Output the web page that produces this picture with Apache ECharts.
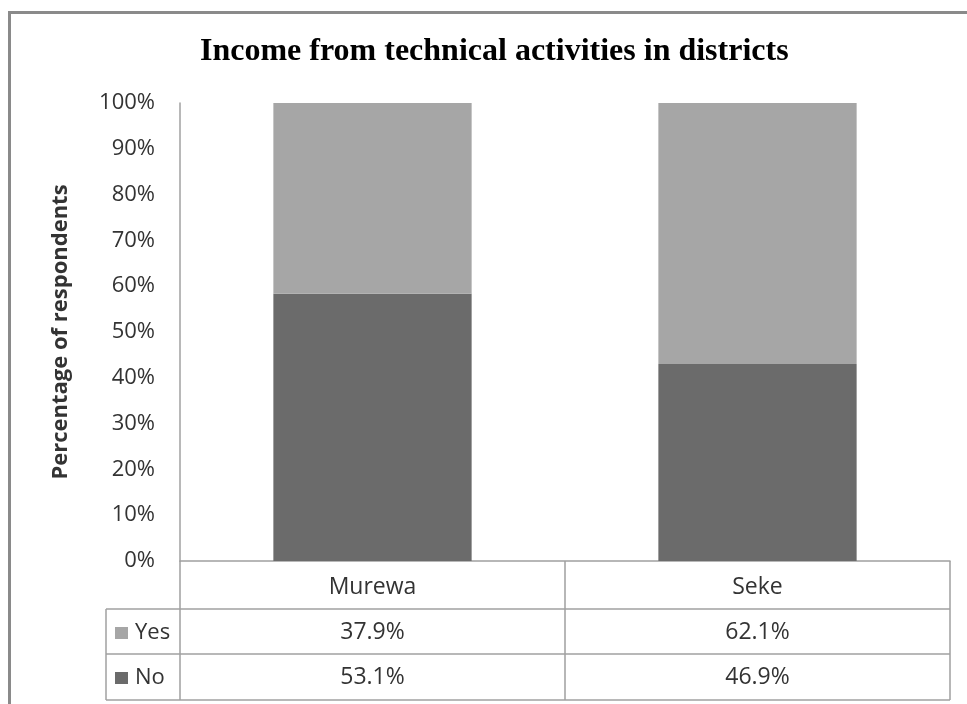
<!DOCTYPE html>
<html>
<head>
<meta charset="utf-8">
<title>Income from technical activities in districts</title>
<script src="https://cdn.jsdelivr.net/npm/echarts@6/dist/echarts.min.js"></script>
<style>
  html, body { margin: 0; padding: 0; background: #fff; }
  #chart { width: 967px; height: 704px; }
</style>
</head>
<body>
<div id="chart"></div>
<script>
// Survey answers per district (share of respondents, %)
const districts = ['Murewa', 'Seke'];
const yesValues = [37.9, 62.1];
const noValues = [53.1, 46.9];
const yTicks = [0, 10, 20, 30, 40, 50, 60, 70, 80, 90, 100];

const YES_COLOR = '#a6a6a6';
const NO_COLOR = '#6b6b6b';
const RULE = '#a0a0a0';
const FONT = '"Open Sans", sans-serif';
const TEXT = '#333';

// Columns are stacked to 100%: each segment is its share of the district total
const totals = districts.map((_, i) => yesValues[i] + noValues[i]);
const noShare = noValues.map((v, i) => v / totals[i] * 100);
const yesShare = yesValues.map((v, i) => v / totals[i] * 100);

// Plot box and data table geometry
const W = 967, H = 704;
const plot = { left: 180, right: 950, top: 103, bottom: 561 };
const tableLeft = 106;
const rowTops = [plot.bottom, plot.bottom + 48, plot.bottom + 48 + 45, plot.bottom + 48 + 45 + 45 + 1];

const fmt = v => v.toFixed(1) + '%';

const chart = echarts.init(document.getElementById('chart'), null, { renderer: 'canvas' });

const rowAxis = (offset, values) => ({
  type: 'category',
  data: districts,
  position: 'bottom',
  offset: offset,
  axisLine: { show: false },
  axisTick: { show: false },
  axisLabel: {
    margin: 0,
    verticalAlign: 'middle',
    fontFamily: FONT,
    fontSize: 23,
    color: TEXT,
    formatter: (v, i) => fmt(values[i])
  }
});

chart.setOption({
  animation: false,
  backgroundColor: '#fff',
  title: {
    text: 'Income from technical activities in districts',
    left: 200,
    top: 36,
    padding: 0,
    textStyle: {
      fontFamily: '"Liberation Serif", "Times New Roman", serif',
      fontWeight: 'bold',
      fontSize: 32,
      color: '#000'
    }
  },
  legend: {
    data: ['Yes', 'No'],
    orient: 'vertical',
    left: 110,
    top: 616,
    itemGap: 21,
    itemWidth: 13,
    itemHeight: 12,
    icon: 'rect',
    selectedMode: false,
    textStyle: { fontFamily: FONT, fontSize: 22, color: TEXT, lineHeight: 24, padding: [0, 0, 0, 2] }
  },
  grid: {
    left: plot.left,
    right: W - plot.right,
    top: plot.top,
    bottom: H - plot.bottom,
    containLabel: false
  },
  xAxis: [
    {
      type: 'category',
      data: districts,
      axisLine: { show: true, lineStyle: { color: RULE, width: 1.5 } },
      axisTick: { show: true, length: rowTops[3] - plot.bottom, alignWithLabel: false, lineStyle: { color: RULE, width: 1.5 } },
      axisLabel: { margin: 26, verticalAlign: 'middle', fontFamily: FONT, fontSize: 23, color: TEXT }
    },
    rowAxis(71, yesValues),
    rowAxis(116, noValues)
  ],
  yAxis: {
    type: 'value',
    min: 0,
    max: 100,
    interval: 10,
    name: 'Percentage of respondents',
    nameLocation: 'middle',
    nameRotate: 90,
    nameGap: 108,
    nameTextStyle: { fontFamily: FONT, fontSize: 22, fontWeight: 'bold', color: TEXT },
    axisLine: { show: true, lineStyle: { color: RULE, width: 1.5 } },
    axisTick: { show: false },
    splitLine: { show: false },
    axisLabel: {
      margin: 25,
      fontFamily: FONT,
      fontSize: 22,
      color: TEXT,
      customValues: yTicks,
      formatter: v => v + '%'
    }
  },
  series: [
    {
      name: 'No',
      type: 'bar',
      stack: 'share',
      barCategoryGap: '48.5%',
      itemStyle: { color: NO_COLOR },
      data: noShare
    },
    {
      name: 'Yes',
      type: 'bar',
      stack: 'share',
      barCategoryGap: '48.5%',
      itemStyle: { color: YES_COLOR },
      data: yesShare
    }
  ],
  graphic: [
    // outer chart frame
    {
      type: 'rect',
      silent: true,
      shape: { x: 9.5, y: 12.5, width: 1000, height: 1000 },
      style: { fill: 'none', stroke: '#8a8a8a', lineWidth: 3 }
    },
    // data table rules below the category row
    ...rowTops.slice(1).map(y => ({
      type: 'line',
      silent: true,
      shape: { x1: tableLeft, y1: y, x2: plot.right, y2: y },
      style: { stroke: RULE, lineWidth: 1.5 }
    })),
    {
      type: 'line',
      silent: true,
      shape: { x1: tableLeft, y1: rowTops[1], x2: tableLeft, y2: rowTops[3] },
      style: { stroke: RULE, lineWidth: 1.5 }
    }
  ]
});
</script>
</body>
</html>
